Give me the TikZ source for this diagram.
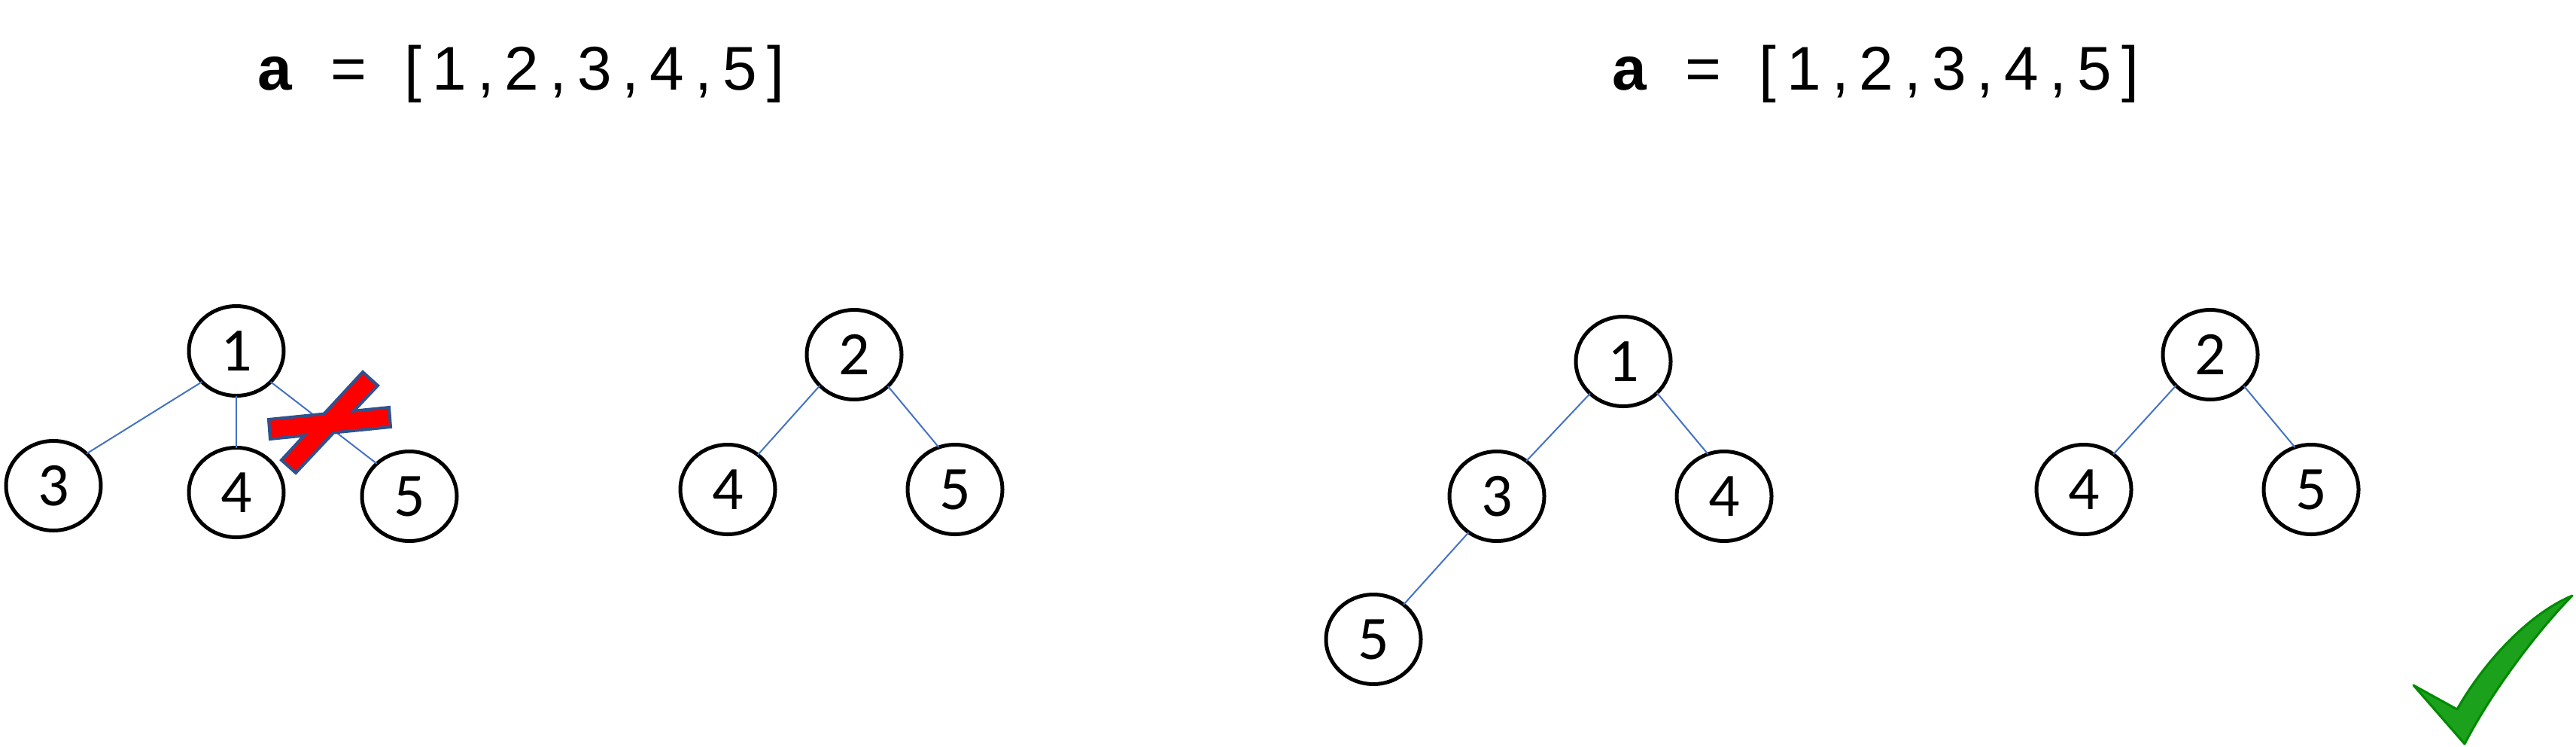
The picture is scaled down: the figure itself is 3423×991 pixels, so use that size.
\documentclass[tikz,border=0pt]{standalone}
\usepackage{fontspec}
\setmainfont{Liberation Sans}
\newfontfamily\calib{Carlito}
\newcommand\tg{\kern14pt}
\usetikzlibrary{shapes.geometric}
\definecolor{edgeblue}{HTML}{4472C4}
\definecolor{xred}{HTML}{FF0000}
\definecolor{xblue}{HTML}{2F528F}
\definecolor{chkfill}{HTML}{1BA11B}
\definecolor{chkline}{HTML}{008A00}
\begin{document}
\begin{tikzpicture}[x=1pt,y=-1pt,
  tnode/.style={ellipse,draw=black,line width=5pt,minimum width=126pt,minimum height=119pt,
    inner sep=0pt,outer sep=0pt,font=\calib\fontsize{82}{82}\selectfont},
  link/.style={draw=edgeblue,line width=2pt},
  titletext/.style={anchor=base west,inner sep=0pt,font=\fontsize{82}{82}\selectfont}]
\useasboundingbox (0,0) rectangle (3423,991);

% titles
\node[titletext] (t1) at (342,119) {\textbf{a}\tg\ \tg=\tg\ \tg[\tg1\tg,\tg2\tg,\tg3\tg,\tg4\tg,\tg5\tg]};
\node[titletext] (t2) at (2142,119) {\textbf{a}\tg\ \tg=\tg\ \tg[\tg1\tg,\tg2\tg,\tg3\tg,\tg4\tg,\tg5\tg]};

% left tree 1
\node[tnode] (A1) at (314,466) {1};
\node[tnode] (A3) at (71,645) {3};
\node[tnode] (A4) at (314,654) {4};
\node[tnode] (A5) at (544,659) {5};
\draw[link] (A1.222) -- (A3.44);
\draw[link] (A1.south) -- (A4.north);
\draw[link] (A1.318) -- (A5.135);

% red cross
\draw[fill=xred,draw=xblue,line width=4pt,line join=miter]
  (357,557) -- (430.5,549.6) -- (482,494) -- (502,512) -- (470.2,545.7) -- (517,541)
  -- (519,567) -- (443.2,574.6) -- (393,628) -- (374,611) -- (404.1,578.5) -- (359,583) -- cycle;

% left tree 2
\node[tnode] (B2) at (1135,471) {2};
\node[tnode] (B4) at (967,650) {4};
\node[tnode] (B5) at (1269,650) {5};
\draw[link] (B2.222) -- (B4.49);
\draw[link] (B2.317) -- (B5.111);

% right tree 1
\node[tnode] (C1) at (2157,480) {1};
\node[tnode] (C3) at (1989,659) {3};
\node[tnode] (C4) at (2291,659) {4};
\node[tnode] (C5) at (1825,849) {5};
\draw[link] (C1.224) -- (C3.50);
\draw[link] (C1.317) -- (C4.111);
\draw[link] (C3.232) -- (C5.49);

% right tree 2
\node[tnode] (D2) at (2937,471) {2};
\node[tnode] (D4) at (2769,650) {4};
\node[tnode] (D5) at (3071,650) {5};
\draw[link] (D2.222) -- (D4.50);
\draw[link] (D2.317) -- (D5.111);

% check mark
\draw[fill=chkfill,draw=chkline,line width=3pt,line join=round]
  (3207,910) -- (3265,942) .. controls (3300,880) and (3360,815) .. (3418,791)
  .. controls (3370,840) and (3310,920) .. (3275,988) -- cycle;
\end{tikzpicture}
\end{document}
